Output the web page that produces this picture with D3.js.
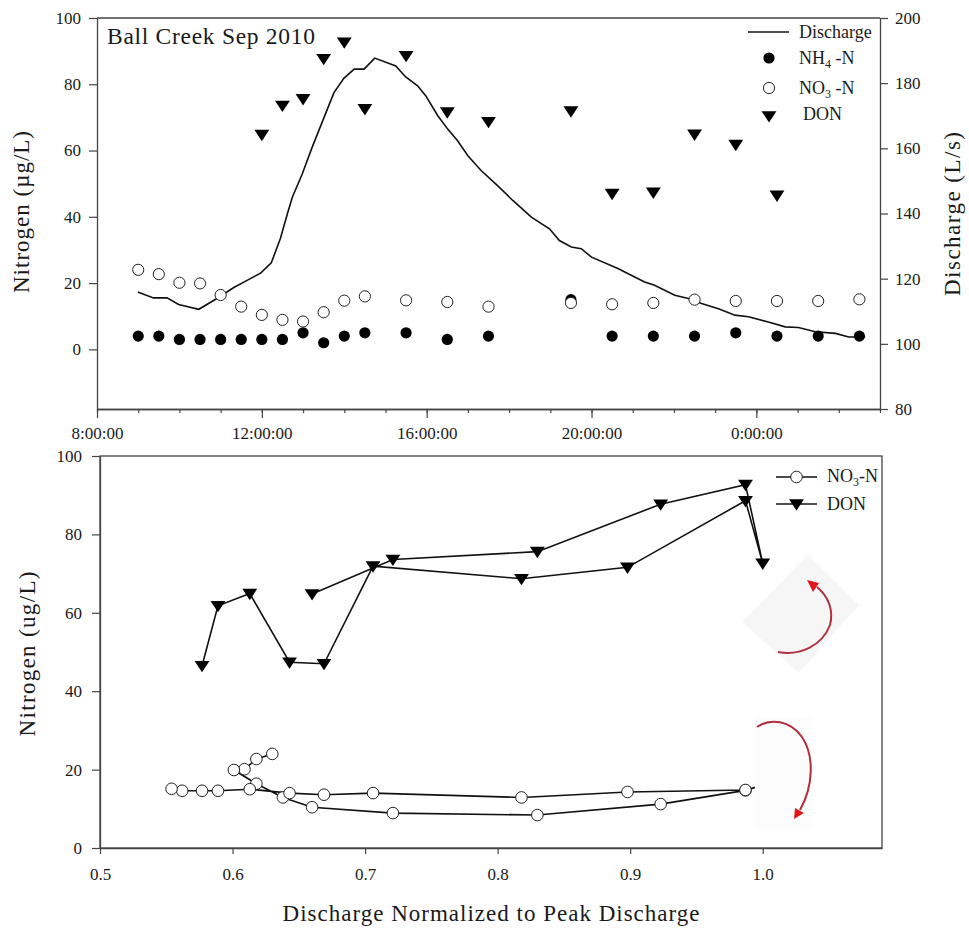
<!DOCTYPE html>
<html><head><meta charset="utf-8">
<script src="https://cdn.jsdelivr.net/npm/d3@7"></script>
<style>
body{margin:0;background:#fff;}
</style></head><body>
<svg id="c" width="969" height="930"></svg>
<script>
// ---------- DATA ----------
const sampleHours = [9,9.5,10,10.5,11,11.5,12,12.5,13,13.5,14,14.5,15.5,16.5,17.5,19.5,20.5,21.5,22.5,23.5,24.5,25.5,26.5];
const nh4 = [4,4,3,3,3,3,3,3,5,2,4,5,5,3,4,15,4,4,4,5,4,4,4];
const no3 = [24,22.7,20.1,19.9,16.4,12.9,10.4,8.9,8.4,11.2,14.7,16,14.8,14.3,12.9,14.0,13.6,14.0,15.0,14.6,14.6,14.6,15.1];
const don = [null,null,null,null,null,null,64.8,73.6,75.6,87.7,92.7,72.6,88.6,71.6,68.7,71.9,47,47.4,64.9,61.8,46.5,null,null];
const normQ = [0.630,0.618,0.609,0.601,0.618,0.638,0.660,0.721,0.830,0.923,0.987,1.0,0.987,0.898,0.818,0.706,0.669,0.643,0.613,0.589,0.577,0.562,0.554];
const dischargeHours = [8.99,9.37,9.70,9.98,10.47,10.91,11.32,11.72,11.97,12.23,12.45,12.62,12.74,12.98,13.22,13.51,13.75,13.99,14.24,14.48,14.74,15.25,15.49,15.78,15.98,16.27,16.51,16.75,17.0,17.32,17.7,18.09,18.54,18.98,19.22,19.51,19.75,20.0,20.64,20.89,21.29,21.53,22.02,22.35,22.67,23.08,23.48,23.81,24.29,24.70,25.02,25.43,25.92,26.24,26.64];
const dischargeLps = [115.9,114.1,114.1,112.1,110.6,113.9,117.3,120.0,121.7,124.9,132.3,139.9,145.0,152.1,160.3,169.5,177.1,181.5,184.3,184.3,187.7,185.3,181.9,179.2,176.1,170.0,165.9,162.3,157.7,153.2,148.8,144.0,138.9,135.3,131.7,129.7,129.2,126.6,123.1,121.5,119.0,118.0,114.9,113.9,112.4,110.8,108.8,108.3,106.7,105.2,105.0,103.7,103.2,102.1,102.1];
const timeTickHours = [8,12,16,20,24];
const timeTickLabels = ["8:00:00","12:00:00","16:00:00","20:00:00","0:00:00"];
const nitrogenTicks = [0,20,40,60,80,100];
const dischargeTicks = [80,100,120,140,160,180,200];
const normTicks = [0.5,0.6,0.7,0.8,0.9,1.0];
const normTickLabels = ["0.5","0.6","0.7","0.8","0.9","1.0"];

// ---------- SETUP ----------
const svg = d3.select("#c");
const AX = "#444";
const F = '"Liberation Serif"';

function styleAxis(g){
  g.select(".domain").attr("stroke",AX).attr("stroke-width",1.3);
  g.selectAll(".tick line").attr("stroke",AX).attr("stroke-width",1.2);
  g.selectAll(".tick text").attr("font-size",17).attr("fill","#1a1a1a");
}
function triPath(s){ // downward triangle centred
  const w=s*0.62, h=s*0.5;
  return `M${-w},${-h*0.8}L${w},${-h*0.8}L0,${h*1.1}Z`;
}

// ---------- TOP CHART ----------
const x1 = d3.scaleLinear().domain([8,27]).range([97,880]);
const yL = d3.scaleLinear().domain([-18,100]).range([409,18]);
const yR = d3.scaleLinear().domain([80,200]).range([409,18]);

const topG = svg.append("g");
topG.append("line").attr("x1",x1.range()[0]).attr("x2",x1.range()[1]).attr("y1",yL.range()[1]).attr("y2",yL.range()[1]).attr("stroke",AX).attr("stroke-width",1.3);

const gxMinor = topG.append("g").attr("transform",`translate(0,${yL.range()[0]})`)
  .call(d3.axisBottom(x1).tickValues(d3.range(8,28,1)).tickSize(4).tickSizeOuter(0).tickFormat(""));
styleAxis(gxMinor);
const gx1 = topG.append("g").attr("transform",`translate(0,${yL.range()[0]})`)
  .call(d3.axisBottom(x1).tickValues(timeTickHours).tickSize(9).tickPadding(9).tickSizeOuter(0)
    .tickFormat((d,i)=>timeTickLabels[i]));
styleAxis(gx1);
const gyL = topG.append("g").attr("transform",`translate(${x1.range()[0]},0)`)
  .call(d3.axisLeft(yL).tickValues(nitrogenTicks).tickSize(8).tickPadding(8).tickSizeOuter(0));
styleAxis(gyL);
const gyR = topG.append("g").attr("transform",`translate(${x1.range()[1]},0)`)
  .call(d3.axisRight(yR).tickValues(dischargeTicks).tickSize(8).tickPadding(7).tickSizeOuter(0));
styleAxis(gyR);

// discharge line
const dLine = d3.line().x((d,i)=>x1(dischargeHours[i])).y(d=>yR(d));
topG.append("path").datum(dischargeLps).attr("d",dLine).attr("fill","none").attr("stroke","#111").attr("stroke-width",1.6);

topG.selectAll(".nh4").data(nh4).join("circle")
  .attr("cx",(d,i)=>x1(sampleHours[i])).attr("cy",d=>yL(d)).attr("r",5.6).attr("fill","#000");
topG.selectAll(".no3").data(no3).join("circle")
  .attr("cx",(d,i)=>x1(sampleHours[i])).attr("cy",d=>yL(d)).attr("r",5.6)
  .attr("fill","#fff").attr("stroke","#222").attr("stroke-width",1);
topG.selectAll(".don").data(don.map((v,i)=>({h:sampleHours[i],v})).filter(d=>d.v!=null)).join("path")
  .attr("transform",d=>`translate(${x1(d.h)},${yL(d.v)})`).attr("d",triPath(12)).attr("fill","#000");

topG.append("text").attr("x",107).attr("y",44).attr("font-size",23.5).attr("textLength",208).text("Ball Creek Sep 2010");
topG.append("text").attr("transform","translate(29,212) rotate(-90)").attr("text-anchor","middle")
  .attr("font-size",23).attr("textLength",162).text("Nitrogen (µg/L)");
topG.append("text").attr("transform","translate(960,214) rotate(-90)").attr("text-anchor","middle")
  .attr("font-size",23).attr("textLength",164).text("Discharge (L/s)");

// legend
const lg = topG.append("g");
lg.append("line").attr("x1",748).attr("x2",789).attr("y1",32).attr("y2",32).attr("stroke","#111").attr("stroke-width",1.6);
lg.append("text").attr("x",799).attr("y",38).attr("font-size",18).text("Discharge");
lg.append("circle").attr("cx",769).attr("cy",58).attr("r",5.6).attr("fill","#000");
const t1 = lg.append("text").attr("x",799).attr("y",64).attr("font-size",18);
t1.append("tspan").text("NH");
t1.append("tspan").attr("font-size",12).attr("dy",4).text("4");
t1.append("tspan").attr("dy",-4).text(" -N");
lg.append("circle").attr("cx",769).attr("cy",88).attr("r",5.6).attr("fill","#fff").attr("stroke","#222");
const t2 = lg.append("text").attr("x",799).attr("y",94).attr("font-size",18);
t2.append("tspan").text("NO");
t2.append("tspan").attr("font-size",12).attr("dy",4).text("3");
t2.append("tspan").attr("dy",-4).text(" -N");
lg.append("path").attr("transform","translate(769,116)").attr("d",triPath(12)).attr("fill","#000");
lg.append("text").attr("x",803).attr("y",120).attr("font-size",18).text("DON");

// ---------- BOTTOM CHART ----------
const xB = d3.scaleLinear().domain([0.5,1.09]).range([100,882]);
const yB = d3.scaleLinear().domain([0,100]).range([848,456]);
const botG = svg.append("g");
botG.append("rect").attr("x",xB.range()[0]).attr("y",yB.range()[1])
  .attr("width",xB.range()[1]-xB.range()[0]).attr("height",yB.range()[0]-yB.range()[1])
  .attr("fill","none").attr("stroke",AX).attr("stroke-width",1.3);
const gxB = botG.append("g").attr("transform",`translate(0,${yB.range()[0]})`)
  .call(d3.axisBottom(xB).tickValues(normTicks).tickSize(6).tickPadding(14).tickSizeOuter(0)
    .tickFormat((d,i)=>normTickLabels[i]));
styleAxis(gxB);
const gyB = botG.append("g").attr("transform",`translate(${xB.range()[0]},0)`)
  .call(d3.axisLeft(yB).tickValues(nitrogenTicks).tickSize(8).tickPadding(10).tickSizeOuter(0));
styleAxis(gyB);

const bLine = d3.line().defined(d=>d.v!=null).x(d=>xB(d.q)).y(d=>yB(d.v));
const no3B = no3.map((v,i)=>({q:normQ[i],v}));
const donB = don.map((v,i)=>({q:normQ[i],v}));
botG.append("path").datum(donB).attr("d",bLine).attr("fill","none").attr("stroke","#111").attr("stroke-width",1.6);
botG.append("path").datum(no3B).attr("d",bLine).attr("fill","none").attr("stroke","#111").attr("stroke-width",1.6);
botG.selectAll(".bdon").data(donB.filter(d=>d.v!=null)).join("path")
  .attr("transform",d=>`translate(${xB(d.q)},${yB(d.v)})`).attr("d",triPath(12)).attr("fill","#000");
botG.selectAll(".bno3").data(no3B).join("circle")
  .attr("cx",d=>xB(d.q)).attr("cy",d=>yB(d.v)).attr("r",5.8)
  .attr("fill","#fff").attr("stroke","#222").attr("stroke-width",1);

botG.append("text").attr("transform","translate(35,654) rotate(-90)").attr("text-anchor","middle")
  .attr("font-size",23).attr("textLength",165).text("Nitrogen (ug/L)");
botG.append("text").attr("x",491).attr("y",921).attr("text-anchor","middle")
  .attr("font-size",23).attr("textLength",417).text("Discharge Normalized to Peak Discharge");

// legend
const lb = botG.append("g");
lb.append("line").attr("x1",776).attr("x2",817).attr("y1",477).attr("y2",477).attr("stroke","#111").attr("stroke-width",1.6);
lb.append("circle").attr("cx",796.5).attr("cy",477).attr("r",5.8).attr("fill","#fff").attr("stroke","#222");
const t3 = lb.append("text").attr("x",827).attr("y",482).attr("font-size",18);
t3.append("tspan").text("NO");
t3.append("tspan").attr("font-size",12).attr("dy",4).text("3");
t3.append("tspan").attr("dy",-4).text("-N");
lb.append("line").attr("x1",776).attr("x2",817).attr("y1",504).attr("y2",504).attr("stroke","#111").attr("stroke-width",1.6);
lb.append("path").attr("transform","translate(796.5,504)").attr("d",triPath(12)).attr("fill","#000");
lb.append("text").attr("x",827).attr("y",510).attr("font-size",18).text("DON");

// hysteresis arrows (pasted images in the original)
const ar = botG.append("g");
ar.append("polygon").attr("points","808,555 859,605 799,673 742,622").attr("fill","#f6f6f6");
ar.append("path").attr("d","M778,652 C800,656 822,646 830,625 C834,610 828,596 817,587")
  .attr("fill","none").attr("stroke","#b03040").attr("stroke-width",2);
ar.append("polygon").attr("points","807,580 819,583 813,592").attr("fill","#e01818");
ar.append("rect").attr("x",755).attr("y",717).attr("width",57).attr("height",112).attr("fill","#fcfcfc");
ar.append("path").attr("d","M757,727 C770,718 790,720 802,737 C814,755 814,785 800,810")
  .attr("fill","none").attr("stroke","#b03040").attr("stroke-width",2);
ar.append("polygon").attr("points","794,819 795,808 804,813").attr("fill","#e01818");

// apply serif font to every text element
svg.selectAll("text").style("font-family",F).style("fill","#1a1a1a");
</script>
</body></html>
